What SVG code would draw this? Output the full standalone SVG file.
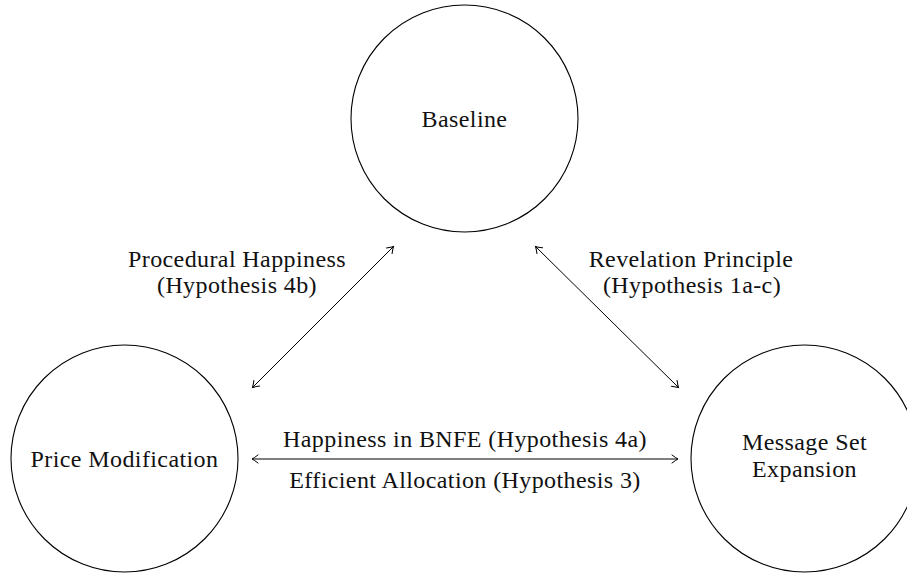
<svg xmlns="http://www.w3.org/2000/svg" width="907" height="573" viewBox="0 0 907 573">
<style>
  .node circle { fill: none; stroke: #000; stroke-width: 1.1; }
  text { font-family: "Liberation Serif", "DejaVu Serif", serif; font-size: 24px; fill: #111; text-anchor: middle; letter-spacing: 0.4px; }
  .conn line { stroke: #000; stroke-width: 1; marker-start: url(#tip); marker-end: url(#tip); }
</style>
<defs>
  <marker id="tip" viewBox="-8 -5 10 10" refX="0" refY="0" markerWidth="10" markerHeight="10" markerUnits="userSpaceOnUse" orient="auto-start-reverse">
    <path d="M -6 -4 Q -2 -1 0 0 Q -2 1 -6 4" fill="none" stroke="#000" stroke-width="1" stroke-linecap="round"/>
  </marker>
</defs>
<rect width="907" height="573" fill="#fff"/>
<g id="baseline" class="node">
  <circle cx="464.5" cy="118.5" r="113.5"/>
  <text x="464.5" y="127">Baseline</text>
</g>
<g id="price-modification" class="node">
  <circle cx="124.5" cy="458.5" r="113.5"/>
  <text x="124.5" y="467">Price Modification</text>
</g>
<g id="message-set-expansion" class="node">
  <circle cx="804.5" cy="458.5" r="113.5"/>
  <text x="804.5" y="450">Message Set</text>
  <text x="804.5" y="477">Expansion</text>
</g>
<g id="connectors" class="conn">
  <line x1="252.5" y1="387.5" x2="393.5" y2="246.5"/>
  <line x1="535.5" y1="246.5" x2="678.5" y2="387.5"/>
  <line x1="252" y1="459" x2="678" y2="459"/>
</g>
<g id="labels">
  <text x="237" y="267">Procedural Happiness</text>
  <text x="237" y="293">(Hypothesis 4b)</text>
  <text x="691" y="267">Revelation Principle</text>
  <text x="692" y="293">(Hypothesis 1a-c)</text>
  <text x="465" y="447">Happiness in BNFE (Hypothesis 4a)</text>
  <text x="465" y="488">Efficient Allocation (Hypothesis 3)</text>
</g>
</svg>
